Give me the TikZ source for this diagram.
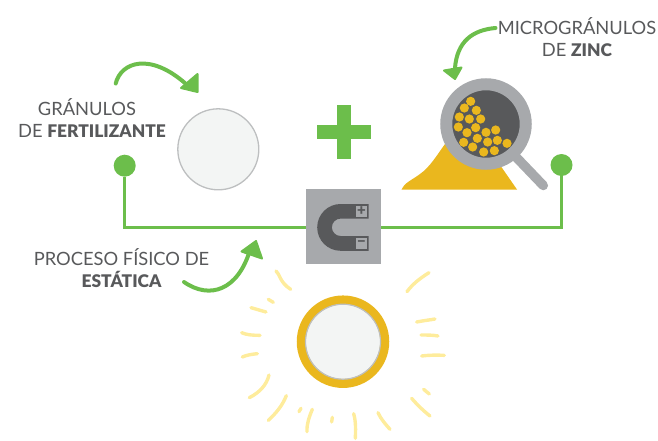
\documentclass[tikz,border=0pt]{standalone}
\usepackage{fontspec}
\setmainfont{Lato}[BoldFont={Lato Black}]
\definecolor{leaf}{HTML}{6CBE4B}
\definecolor{gold}{HTML}{EAB71E}
\definecolor{ink}{HTML}{58595B}
\definecolor{steel}{HTML}{A7A9AC}
\definecolor{pale}{HTML}{F3F5F4}
\definecolor{rim}{HTML}{BDBFC0}
\definecolor{ray}{HTML}{FEEC9C}
\newcommand{\heavy}[1]{{\fontsize{17.4}{22.5}\selectfont\bfseries #1}}
\tikzset{
  label text/.style={font=\fontsize{18.3}{22.5}\selectfont,text=ink,align=center,inner sep=0pt},
  wire/.style={draw=leaf,line width=3.2pt},
  dot/.style={circle,fill=leaf,minimum size=22pt,inner sep=0pt},
  curve arrow/.style={draw=leaf,line width=4pt,line cap=round},
  arrow head/.style={fill=leaf,draw=leaf,line width=2pt,line join=round},
  sunray/.style={draw=ray,line width=3.4pt,line cap=round,line join=round},
  bead/.style={circle,fill=gold,minimum size=9.2pt,inner sep=0pt},
  pole/.style={fill=steel,minimum width=11.5pt,minimum height=11pt,inner sep=0pt,font=\bfseries\fontsize{15}{15}\selectfont,text=ink},
}
\begin{document}
\begin{tikzpicture}[x=1pt,y=-1pt]
\useasboundingbox (0,0) rectangle (658,440);
% zinc pile
\fill[gold] (401.5,189.5) .. controls (404,183) and (412,180) .. (420,174) .. controls (430,167) and (437,155) .. (445,144) -- (490,150) -- (500,165) -- (517,189.5) -- cycle;
% wires
\coordinate (corner left) at (124.7,227.3);
\coordinate (corner right) at (561.5,227.3);
\node[dot] (dot left) at (124.7,165.7) {};
\node[dot] (dot right) at (561.5,165) {};
\node[fill=steel,minimum size=75pt,inner sep=0pt] (magnet box) at (343.5,226.5) {};
\draw[wire] (dot left) -- (corner left) -- (magnet box.west |- corner left);
\draw[wire] (dot right) -- (corner right) -- (magnet box.east |- corner right);
% magnet
\fill[ink,even odd rule] (368.7,204) -- (340.6,204) arc[start angle=270,end angle=90,radius=23.4] -- (368.7,250.8) -- (368.7,236) -- (340.6,236) arc[start angle=90,end angle=270,radius=8.7] -- (368.7,218.6) -- cycle;
\node[pole] (pole plus) at (361.5,211.3) {+};
\node[pole] (pole minus) at (361.5,243.2) {−};
% fertilizer granule
\node[circle,fill=pale,draw=rim,line width=1.3pt,minimum size=81pt,inner sep=0pt] (granule) at (218.3,149.3) {};
% plus
\fill[leaf] (336.5,105) rectangle (350.5,159);
\fill[leaf] (316.5,125) rectangle (370.5,139);
% magnifier
\draw[steel,line width=9.5pt,line cap=round] (516,157) -- (543.3,185.5);
\node[circle,fill=ink,draw=steel,line width=12pt,minimum size=79.5pt,inner sep=0pt] (lens) at (486,124) {};
\foreach \i/\x/\y in {1/122/94,2/103/114,3/139/121,4/88/141,5/118/147,6/152/147,7/85/171,8/111/188,9/137/173,10/168/187,11/197/180,12/101/217,13/142/205,14/128/231,15/173/216,16/202/211,17/161/246,18/193/242,19/231/220}
  \node[bead] (bead \i) at ({430+\x/3},{70+\y/3}) {};
% final granule
\node[circle,fill=pale,draw=gold,line width=9pt,minimum size=83.5pt,inner sep=0pt] (coated) at (343,341.7) {};
\node[circle,draw=rim,line width=1.2pt,minimum size=75pt,inner sep=0pt] (coated core) at (343,341.7) {};
% rays
\begin{scope}[shift={(220,260)},x=0.3333pt,y=-0.3333pt]
\draw[sunray] (168,33) .. controls (180,42) and (178,66) .. (212,88);
\draw[sunray] (145,118) -- (160,127);
\draw[sunray] (93,143) -- (138,156);
\draw[sunray] (65,218) .. controls (80,225) and (100,226) .. (120,226);
\draw[sunray] (67,291) .. controls (80,285) and (95,283) .. (112,281);
\draw[sunray] (147,345) .. controls (140,375) and (118,398) .. (88,413);
\draw[sunray] (199,407) .. controls (188,435) and (170,458) .. (145,481);
\draw[sunray] (243,445) -- (237,455);
\draw[sunray] (277,448) .. controls (268,470) and (260,490) .. (261,515);
\draw[sunray] (337,472) -- (335,486);
\draw[sunray] (401,461) .. controls (408,485) and (407,510) .. (406,535);
\draw[sunray] (474,458) .. controls (483,478) and (497,493) .. (510,508);
\draw[sunray] (575,415) .. controls (592,435) and (610,452) .. (630,468);
\draw[sunray] (611,388) -- (628,402);
\draw[sunray] (605,288) .. controls (630,285) and (650,285) .. (673,286);
\draw[sunray] (603,225) .. controls (620,225) and (640,225) .. (654,228);
\draw[sunray] (590,186) .. controls (610,182) and (628,180) .. (645,177);
\draw[sunray] (627,38) .. controls (600,55) and (578,72) .. (561,95);
\end{scope}
% labels
\node[label text] (zinc label) at (577,37) {MICROGRÁNULOS\\DE \heavy{ZINC}};
\node[label text] (gran label a) at (87,107.5) {GRÁNULOS};
\node[label text] (gran label b) at (92,130.5) {DE \heavy{FERTILIZANTE}};
\node[label text] (process label) at (121.5,268) {PROCESO FÍSICO DE\\\heavy{ESTÁTICA}};
% arrows
\coordinate (a1 start) at (115.7,83.5);
\coordinate (a1 end) at (186,84);
\draw[curve arrow] (a1 start) .. controls (121,62) and (150,52) .. (a1 end);
\fill[arrow head] (197.5,74) -- (181,88) -- (197.5,92) -- cycle;
\coordinate (a2 start) at (495.5,28);
\coordinate (a2 end) at (455,68);
\draw[curve arrow] (a2 start) .. controls (472,30) and (457,42) .. (a2 end);
\fill[arrow head] (444,70.5) -- (461.5,67.5) -- (455,79) -- cycle;
\coordinate (a3 start) at (184,282);
\coordinate (a3 end) at (250,250);
\draw[curve arrow] (a3 start) .. controls (210,300) and (238,290) .. (a3 end);
\fill[arrow head] (256,241) -- (241.5,251.5) -- (262,258.5) -- cycle;
\end{tikzpicture}
\end{document}
